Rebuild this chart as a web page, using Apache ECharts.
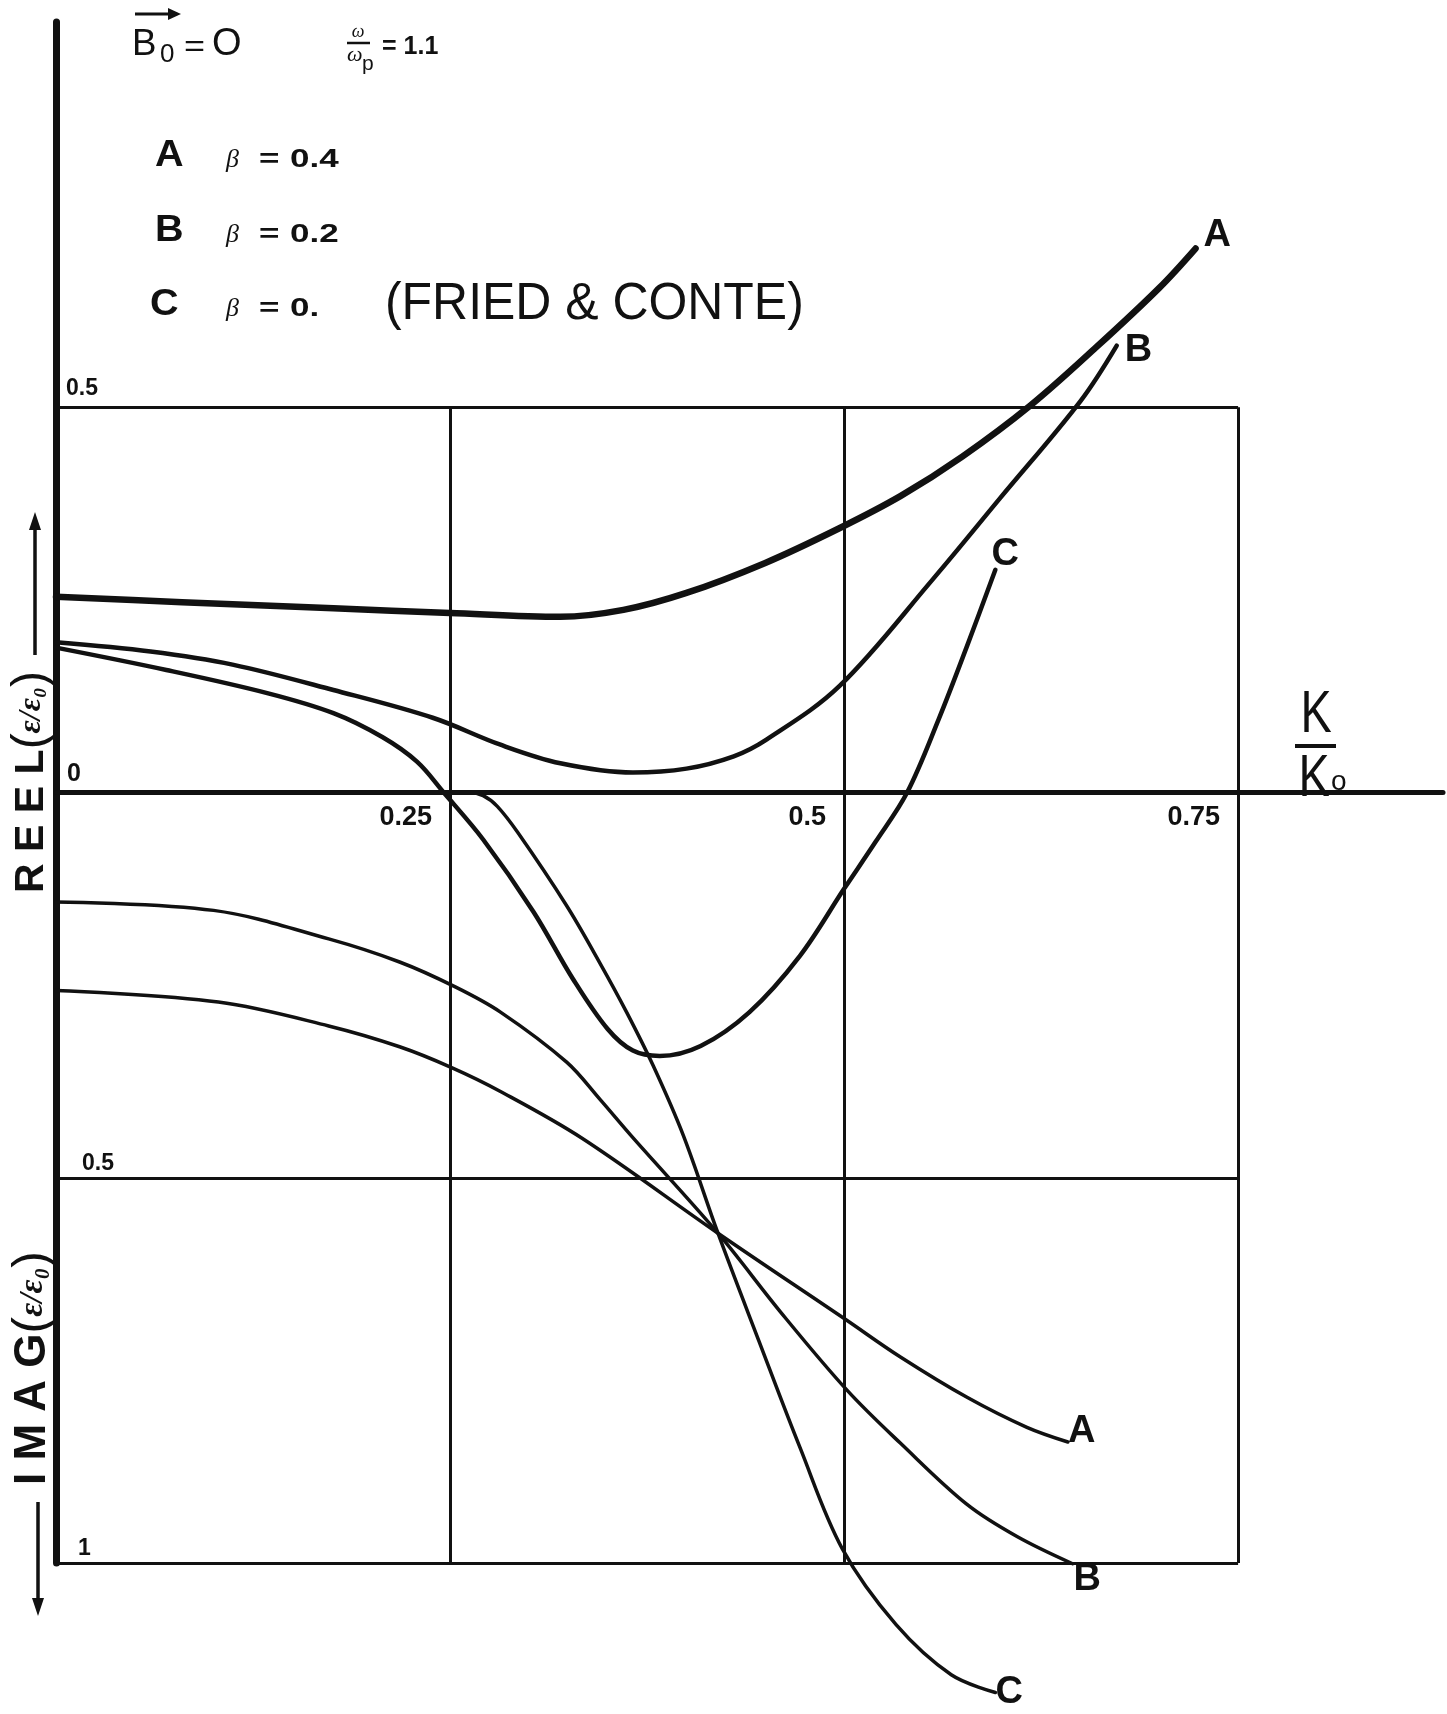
<!DOCTYPE html>
<html>
<head>
<meta charset="utf-8">
<script src="https://cdn.jsdelivr.net/npm/echarts@6.0.0/dist/echarts.min.js"></script>
<style>
  html, body { margin: 0; padding: 0; background: #ffffff; }
  #chart { width: 1447px; height: 1714px; }
</style>
</head>
<body>
<div id="chart"></div>
<script>
// Dielectric function eps/eps0 versus K/K0, B0 = 0, omega/omega_p = 1.1.
// Real parts plotted upward, imaginary parts plotted downward (negative values).

// Real part, beta = 0.4 / 0.2 / 0
const reelA = [[0, 0.254], [0.08, 0.247], [0.176, 0.239], [0.25, 0.233], [0.32, 0.228], [0.36, 0.237],
  [0.40, 0.259], [0.45, 0.298], [0.497, 0.343], [0.536, 0.385], [0.575, 0.436], [0.618, 0.502],
  [0.66, 0.578], [0.70, 0.655], [0.723, 0.706]];
const reelB = [[0, 0.195], [0.06, 0.183], [0.112, 0.166], [0.176, 0.133], [0.239, 0.097], [0.282, 0.062],
  [0.32, 0.038], [0.366, 0.026], [0.40, 0.031], [0.43, 0.047], [0.451, 0.069], [0.497, 0.138],
  [0.556, 0.276], [0.599, 0.382], [0.650, 0.508], [0.673, 0.580]];
const reelC = [[0, 0.188], [0.07, 0.159], [0.134, 0.129], [0.176, 0.103], [0.207, 0.072], [0.229, 0.040],
  [0.246, 0], [0.271, -0.061], [0.303, -0.155], [0.328, -0.242], [0.350, -0.307], [0.366, -0.335],
  [0.383, -0.342], [0.409, -0.329], [0.440, -0.285], [0.472, -0.212], [0.50, -0.125], [0.52, -0.064],
  [0.54, 0], [0.56, 0.095], [0.578, 0.19], [0.596, 0.289]];

// Imaginary part (drawn downward), beta = 0.4 / 0.2 / 0
const imagA = [[0, -0.257], [0.103, -0.272], [0.173, -0.303], [0.218, -0.330], [0.251, -0.357],
  [0.282, -0.388], [0.334, -0.449], [0.420, -0.572], [0.501, -0.684], [0.536, -0.733],
  [0.578, -0.785], [0.616, -0.824], [0.642, -0.843]];
const imagB = [[0, -0.142], [0.10, -0.153], [0.173, -0.19], [0.218, -0.22], [0.253, -0.252],
  [0.282, -0.285], [0.324, -0.350], [0.345, -0.398], [0.366, -0.448], [0.420, -0.572],
  [0.46, -0.675], [0.502, -0.776], [0.536, -0.845], [0.578, -0.924], [0.610, -0.966], [0.645, -1.001]];
const imagC = [[0, 0], [0.13, 0], [0.262, 0], [0.271, -0.004], [0.280, -0.018], [0.293, -0.052],
  [0.324, -0.147], [0.345, -0.221], [0.362, -0.285], [0.379, -0.355], [0.398, -0.445], [0.420, -0.572],
  [0.446, -0.712], [0.472, -0.850], [0.499, -0.982], [0.533, -1.080], [0.568, -1.145], [0.596, -1.168]];

// Boxed grid
const gridK = [0.25, 0.5, 0.75];
const gridV = [0.5, -0.5, -1];
const frameK = [0, 0.75];
const frameV = [-1, 0.5];

// Tick texts
const kTicks = { 0.25: '0.25', 0.5: '0.5', 0.75: '0.75' };
const vTicks = { '0.5': '{a|0.5}', '0': '{z|0}', '-0.5': '{b|0.5}', '-1': '{c|1}' };

// Legend rows
const legendNames = ['A', 'B', 'C'];
const legendBetas = ['0.4', '0.2', '0.'];

const ink = '#111111';
const sans = '"Liberation Sans", Arial, Helvetica, sans-serif';
const serif = '"Liberation Serif", "DejaVu Serif", serif';

const chart = echarts.init(document.getElementById('chart'), null, { renderer: 'canvas' });

function curve(id, label, data, width, off) {
  return {
    type: 'line', id, name: id, data,
    smooth: 0.35, showSymbol: false, symbol: 'none', clip: false, silent: true,
    lineStyle: { color: ink, width, cap: 'round', join: 'round' },
    itemStyle: { color: ink },
    emphasis: { disabled: true },
    endLabel: {
      show: true, formatter: label, distance: 0, offset: off,
      color: ink, fontFamily: sans, fontWeight: 'bold', fontSize: 38
    },
    z: 3
  };
}

function text(x, y, str, size, opts) {
  const o = opts || {};
  const st = o.style || {};
  const el = {
    type: 'text', x, y, silent: true,
    style: Object.assign({
      text: str, fill: ink, fontFamily: sans, fontSize: size, fontWeight: 'normal',
      align: 'left', verticalAlign: 'middle'
    }, st)
  };
  if (o.scaleX) el.scaleX = o.scaleX;
  if (o.rotation) el.rotation = o.rotation;
  return el;
}
function seg(x1, y1, x2, y2, w) {
  return { type: 'line', silent: true, shape: { x1, y1, x2, y2 }, style: { stroke: ink, lineWidth: w } };
}
function tri(points) {
  return { type: 'polygon', silent: true, shape: { points }, style: { fill: ink } };
}

const graphics = [
  // B0 = O, omega / omega_p = 1.1
  seg(135, 14, 171, 14, 3), tri([[168, 8], [181, 14], [168, 20]]),
  text(132, 45, 'B', 36, { scaleX: 1.02 }),
  text(160, 55, '0', 26),
  text(184, 48, '=', 30, { scaleX: 1.2 }),
  text(212, 45, 'O', 38),
  text(358, 32, 'ω', 18, { style: { fontFamily: serif, fontStyle: 'italic', align: 'center' } }),
  seg(347, 43, 370, 43, 2.5),
  text(347, 55, 'ω', 22, { style: { fontFamily: serif, fontStyle: 'italic' } }),
  text(362, 64, 'p', 21),
  text(382, 47, '= 1.1', 25, { style: { fontWeight: 'bold' } }),
  text(385, 305, '(FRIED & CONTE)', 52, { scaleX: 0.96 }),
  // K / K0
  text(1316, 715, 'K', 60, { scaleX: 0.78, style: { align: 'center' } }),
  seg(1295, 746, 1336, 746, 4),
  text(1314, 779, 'K', 60, { scaleX: 0.78, style: { align: 'center' } }),
  text(1331, 782, 'o', 28),
  // vertical axis titles with direction arrows
  {
    type: 'text', x: 32, y: 782, rotation: Math.PI / 2, silent: true,
    style: {
      text: '{l|R E E L}{p|(}{f|ε/ε₀}{p|)}', align: 'center', verticalAlign: 'middle',
      rich: {
        l: { fontSize: 41, fontWeight: 'bold', fontFamily: sans, fill: ink },
        p: { fontSize: 48, fontFamily: sans, fill: ink },
        f: { fontSize: 32, fontWeight: 'bold', fontStyle: 'italic', fontFamily: serif, fill: ink }
      }
    }
  },
  seg(35, 655, 35, 526, 3.5), tri([[29, 530], [35, 512], [41, 530]]),
  {
    type: 'text', x: 33, y: 1368, rotation: Math.PI / 2, silent: true,
    style: {
      text: '{l|I M A G}{p|(}{f|ε/ε₀}{p|)}', align: 'center', verticalAlign: 'middle',
      rich: {
        l: { fontSize: 44, fontWeight: 'bold', fontFamily: sans, fill: ink },
        p: { fontSize: 50, fontFamily: sans, fill: ink },
        f: { fontSize: 34, fontWeight: 'bold', fontStyle: 'italic', fontFamily: serif, fill: ink }
      }
    }
  },
  seg(38, 1502, 38, 1600, 3.5), tri([[32, 1598], [38, 1616], [44, 1598]])
];

// legend rows
const legendY = [156, 231, 305];
legendNames.forEach((n, i) => {
  const y = legendY[i];
  graphics.push(text(n === 'C' ? 150 : 155, y, n, 36, { scaleX: 1.1, style: { fontWeight: 'bold' } }));
  graphics.push(text(226, y + 4, 'β', 26, { style: { fontFamily: serif, fontStyle: 'italic' } }));
  graphics.push(text(259, y + 4, '=', 25, { scaleX: 1.4, style: { fontWeight: 'bold' } }));
  graphics.push(text(290, y + 4, legendBetas[i], 25, { scaleX: 1.4, style: { fontWeight: 'bold' } }));
});

const gridLines = gridK.map(k => [{ coord: [k, frameV[1]] }, { coord: [k, frameV[0]] }])
  .concat(gridV.map(v => [{ coord: [frameK[0], v] }, { coord: [frameK[1], v] }]));

const series = [
  curve('reelA', 'A', reelA, 6.5, [8, -13]),
  curve('reelB', 'B', reelB, 4.5, [8, 5]),
  curve('reelC', 'C', reelC, 4.5, [-4, -15]),
  curve('imagA', 'A', imagA, 3.5, [0, -11]),
  curve('imagB', 'B', imagB, 3.5, [1, 16]),
  curve('imagC', 'C', imagC, 3.5, [0, 0])
];
series[0].markLine = {
  silent: true, symbol: ['none', 'none'], animation: false,
  label: { show: false }, emphasis: { disabled: true },
  lineStyle: { color: ink, width: 3, type: 'solid' },
  data: gridLines
};

chart.setOption({
  animation: false,
  backgroundColor: '#ffffff',
  grid: { left: 56, right: 4, top: 22, bottom: 151, containLabel: false },
  xAxis: {
    type: 'value', min: 0, max: 0.88, interval: 0.25,
    axisLine: { show: true, onZero: false, lineStyle: { color: ink, width: 5 } },
    axisTick: { show: false }, splitLine: { show: false },
    axisLabel: {
      show: true, color: ink, fontFamily: sans, fontWeight: 'bold', fontSize: 27,
      margin: 12, align: 'right', padding: [0, 18, 0, 0],
      formatter: v => kTicks[v] || ''
    }
  },
  yAxis: {
    type: 'value', min: -1, max: 1, interval: 0.5,
    axisLine: { show: true, onZero: false, lineStyle: { color: ink, width: 7 } },
    axisTick: { show: false }, splitLine: { show: false },
    axisLabel: {
      show: true, inside: true, margin: 6, verticalAlign: 'bottom',
      color: ink, fontFamily: sans, fontWeight: 'bold', fontSize: 22,
      formatter: v => vTicks[String(v)] || '',
      rich: {
        a: { fontFamily: sans, fontWeight: 'bold', fontSize: 23, color: ink, padding: [0, 0, 7, 4] },
        z: { fontFamily: sans, fontWeight: 'bold', fontSize: 25, color: ink, padding: [0, 0, 6, 5] },
        b: { fontFamily: sans, fontWeight: 'bold', fontSize: 23, color: ink, padding: [0, 0, 3, 20] },
        c: { fontFamily: sans, fontWeight: 'bold', fontSize: 23, color: ink, padding: [0, 0, 3, 16] }
      }
    }
  },
  graphic: graphics,
  series
});

// Lift the K/K0 axis (line and labels) onto the zero level of the vertical axis.
const yZero = chart.convertToPixel({ yAxisIndex: 0 }, 0);
const yFloor = chart.convertToPixel({ yAxisIndex: 0 }, frameV[0]);
chart.setOption({ xAxis: { offset: yZero - yFloor } });
</script>
</body>
</html>
